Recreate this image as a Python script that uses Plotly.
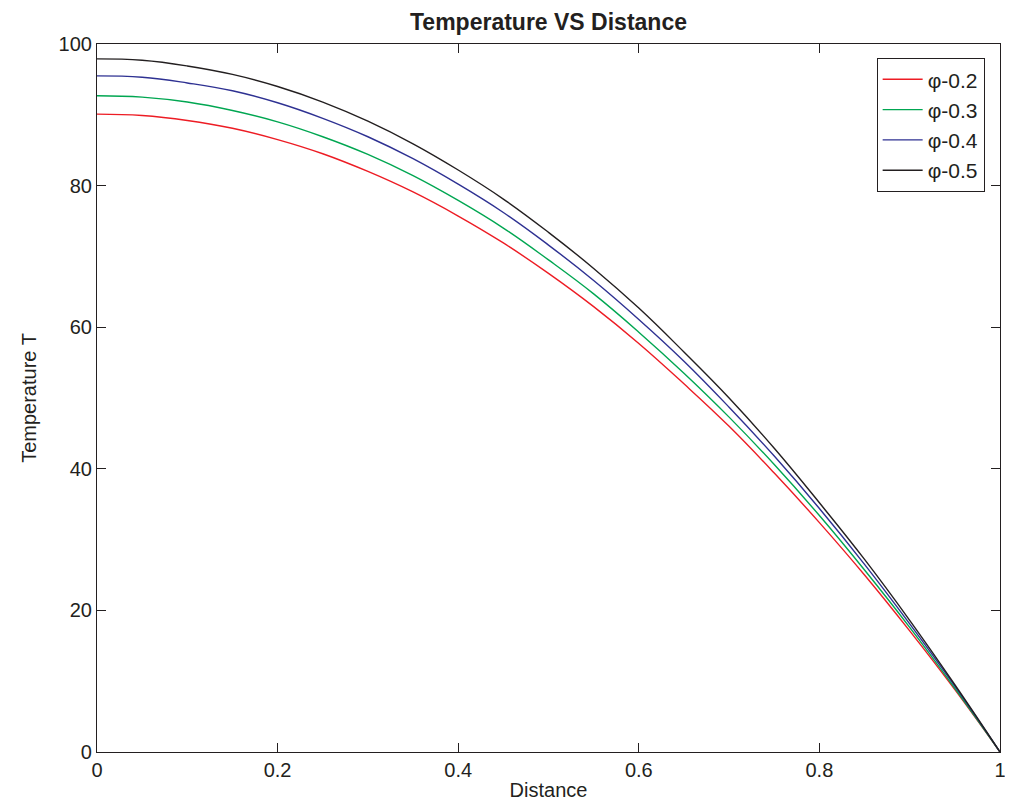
import plotly.graph_objects as go

distance = [0, 0.05, 0.1, 0.15, 0.2, 0.25, 0.3, 0.35, 0.4, 0.45, 0.5,
            0.55, 0.6, 0.65, 0.7, 0.75, 0.8, 0.85, 0.9, 0.95, 1.0]
t_phi02 = [90.1, 89.9, 89.2, 88.1, 86.5, 84.5, 82.0, 79.1, 75.7, 71.9, 67.6,
           62.9, 57.7, 52.0, 46.0, 39.4, 32.4, 25.0, 17.1, 8.8, 0]
t_phi03 = [92.7, 92.5, 91.8, 90.6, 89.0, 86.9, 84.4, 81.4, 77.9, 74.0, 69.5,
           64.7, 59.3, 53.5, 47.3, 40.6, 33.4, 25.7, 17.6, 9.0, 0]
t_phi04 = [95.5, 95.3, 94.5, 93.4, 91.7, 89.5, 86.9, 83.8, 80.2, 76.2, 71.6,
           66.6, 61.1, 55.2, 48.7, 41.8, 34.4, 26.5, 18.1, 9.3, 0]
t_phi05 = [97.9, 97.7, 96.9, 95.7, 94.0, 91.8, 89.1, 85.9, 82.2, 78.1, 73.4,
           68.3, 62.7, 56.5, 50.0, 42.9, 35.2, 27.2, 18.6, 9.5, 0]

series = [
    ("φ-0.2", t_phi02, "#ED1C24"),
    ("φ-0.3", t_phi03, "#00A651"),
    ("φ-0.4", t_phi04, "#2E3192"),
    ("φ-0.5", t_phi05, "#231F20"),
]

fig = go.Figure()
for name, vals, col in series:
    fig.add_trace(go.Scatter(x=distance, y=vals, mode="lines", name=name,
                             line=dict(color=col, width=1.4, shape="spline", smoothing=1.2)))

txt = "#231F20"
font_family = "Liberation Sans, Arial, sans-serif"
axis_common = dict(showline=True, linecolor=txt, linewidth=1.2, mirror="ticks",
                   ticks="inside", ticklen=9, tickcolor=txt, tickwidth=1,
                   showgrid=False, zeroline=False, automargin=False,
                   tickfont=dict(size=20, color=txt, family=font_family))

W, H = 1005, 795  # page body has an 8px margin
fig.update_layout(
    width=W, height=H,
    margin=dict(l=89, r=13, t=36, b=51),
    paper_bgcolor="white", plot_bgcolor="white",
    title=dict(text="<b>Temperature VS Distance</b>", x=(89 + W - 13) / 2 / W, xanchor="center",
               y=1 - 14 / H, yanchor="middle", font=dict(size=23, color=txt, family=font_family)),
    xaxis=dict(range=[0, 1], tickvals=[0, 0.2, 0.4, 0.6, 0.8, 1], ticktext=["0", "0.2", "0.4", "0.6", "0.8", "1"],
               title=dict(text="Distance", font=dict(size=20, color=txt, family=font_family), standoff=2),
               **axis_common),
    yaxis=dict(range=[0, 100], tickvals=[0, 20, 40, 60, 80, 100],
               title=dict(text="Temperature T", font=dict(size=20, color=txt, family=font_family), standoff=16),
               **axis_common),
    legend=dict(x=0.983, y=0.98, xanchor="right", yanchor="top", bgcolor="white",
                bordercolor=txt, borderwidth=1, font=dict(size=21, color=txt, family=font_family),
                tracegroupgap=0, itemwidth=40),
    showlegend=True,
)

fig.write_html("out.html")
